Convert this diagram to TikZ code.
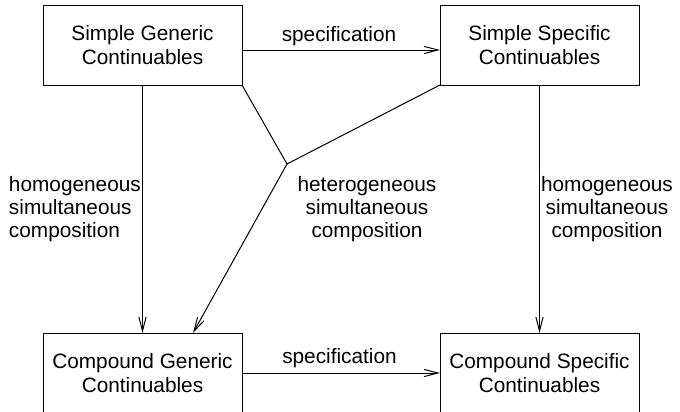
\documentclass[tikz,border=0pt]{standalone}
\usepackage{fontspec}
\setmainfont{Liberation Sans}
\usetikzlibrary{arrows.meta}
\begin{document}
\begin{tikzpicture}[x=0.5pt,y=-0.5pt,
  font=\fontsize{10.4}{11.65}\selectfont,
  every node/.style={inner sep=0pt, outer sep=0pt},
  classbox/.style={draw, line width=0.5pt, minimum width=99.5pt,
    minimum height=40pt, align=center},
  link/.style={line width=0.5pt},
  arr/.style={link, -{Straight Barb[length=7pt,width=3.6pt,line width=0.5pt]}},
  lbl/.style={align=center}]
  \useasboundingbox (0,0) rectangle (680,412);

  % the four classes of continuables
  \node[classbox] (sg) at (142.5,45)  {Simple Generic\\Continuables};
  \node[classbox] (ss) at (539.5,45)  {Simple Specific\\Continuables};
  \node[classbox] (cg) at (142.5,373) {Compound Generic\\Continuables};
  \node[classbox] (cs) at (539.5,373) {Compound Specific\\Continuables};

  % specification arrows
  \draw[arr] ([yshift=-2.5pt]sg.east) -- ([yshift=-2.5pt]ss.west);
  \draw[arr] (cg.east) -- (cs.west);
  \node[anchor=base] (spectop) at (339,41) {specification};
  \node[anchor=base] (specbot) at (339.5,363) {specification};

  % homogeneous composition
  \draw[arr] (sg.south) -- (cg.north);
  \draw[arr] (ss.south) -- (cs.north);
  \node[align=left, anchor=west] (homl) at (9,209)
    {homogeneous\\simultaneous\\composition};
  \node[lbl] (homr) at (607,209)
    {homogeneous\\simultaneous\\composition};

  % heterogeneous composition joins both simple classes
  \coordinate (hj) at (287,164);
  \draw[link] (sg.south east) -- (hj) -- (ss.south west);
  \draw[arr] (hj) -- ([xshift=75pt]cg.north west);
  \node[lbl] (het) at (367,209)
    {heterogeneous\\simultaneous\\composition};
\end{tikzpicture}
\end{document}
